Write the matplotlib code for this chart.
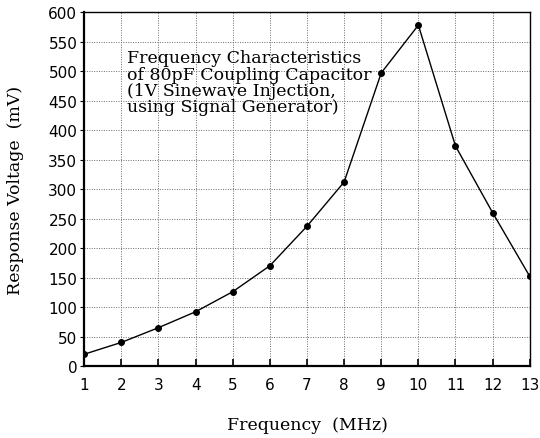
import numpy as np
import matplotlib
matplotlib.use('Agg')
import matplotlib.pyplot as plt

# measured response of the coupling capacitor
freq_mhz = [1, 2, 3, 4, 5, 6, 7, 8, 9, 10, 11, 12, 13]
resp_mv = [20, 40, 65, 92, 126, 170, 237, 312, 497, 578, 373, 260, 152]

x_ticks = list(range(1, 14))
y_ticks = list(range(0, 601, 50))

note = ('Frequency Characteristics\n'
        'of 80pF Coupling Capacitor\n'
        '(1V Sinewave Injection,\n'
        'using Signal Generator)')

serif = 'DejaVu Serif'

fig = plt.figure(figsize=(5.4, 4.39), dpi=100)
ax = fig.add_axes([0.156, 0.164, 0.825, 0.806])

ax.plot(freq_mhz, resp_mv, color='black', lw=1.0, marker='o', ms=4,
        markerfacecolor='black', zorder=3)

ax.set_xlim(1, 13)
ax.set_ylim(0, 600)
ax.set_xticks(x_ticks)
ax.set_yticks(y_ticks)
ax.grid(True, color='#6a6a6a', ls=(0, (1, 1.5)), lw=0.7)

for s in ax.spines.values():
    s.set_linewidth(1.0)
ax.spines['left'].set_linewidth(1.6)
ax.spines['bottom'].set_linewidth(1.6)

ax.tick_params(axis='x', direction='in', length=5, width=1.2, pad=8,
               labelsize=11)
ax.tick_params(axis='y', direction='out', length=3, width=0.8, pad=2,
               labelsize=11)
for lbl in ax.get_xticklabels() + ax.get_yticklabels():
    lbl.set_family('DejaVu Sans')

ax.text(2.14, 537, note, fontsize=12.5, family=serif,
        va='top', ha='left', linespacing=0.95)

ax.set_xlabel('Frequency  (MHz)', family=serif, fontsize=12.5, labelpad=17)
ax.set_ylabel('Response Voltage  (mV)', family=serif, fontsize=12.5)
ax.yaxis.set_label_coords(-0.135, 0.5)

fig.savefig('out.png', dpi=100)
